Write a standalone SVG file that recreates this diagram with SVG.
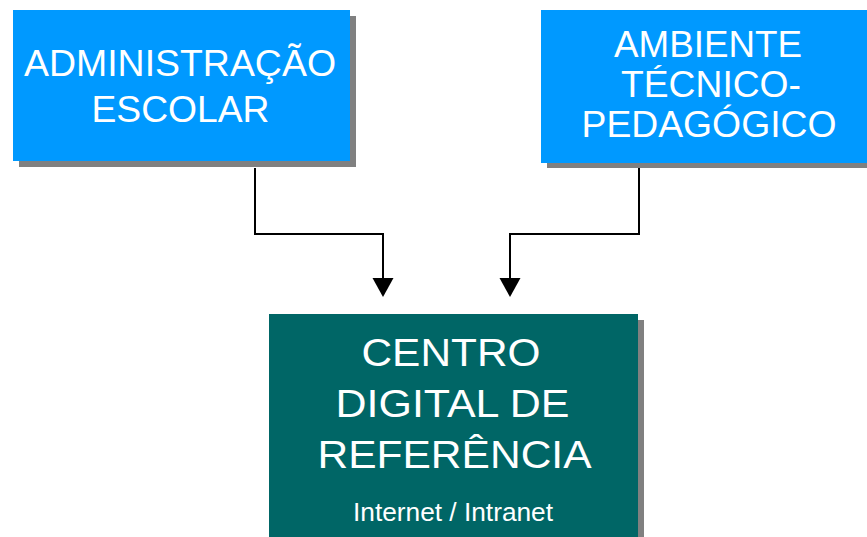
<svg xmlns="http://www.w3.org/2000/svg" width="867" height="537" viewBox="0 0 867 537">
<defs>
<style>
.sh{fill:#808080}
.blue{fill:#0099FF}
.green{fill:#006666}
text{font-family:"Liberation Sans",Arial,sans-serif;fill:#FFFFFF;text-anchor:middle}
.conn{fill:none;stroke:#000;stroke-width:2}
.head{fill:#000}
</style>
</defs>
<rect width="867" height="537" fill="#FFFFFF"/>
<g id="admin">
<rect class="sh" x="19" y="16" width="337" height="151"/>
<rect class="blue" x="13" y="10" width="337" height="151"/>
<text x="180" y="76" font-size="37" textLength="312" lengthAdjust="spacingAndGlyphs">ADMINISTRAÇÃO</text>
<text x="180.5" y="122" font-size="37" textLength="178" lengthAdjust="spacingAndGlyphs">ESCOLAR</text>
</g>
<g id="ambiente">
<rect class="sh" x="547" y="16" width="326" height="152"/>
<rect class="blue" x="541" y="10" width="326" height="153"/>
<text x="708" y="57" font-size="36" textLength="188" lengthAdjust="spacingAndGlyphs">AMBIENTE</text>
<text x="711" y="97" font-size="36" textLength="180" lengthAdjust="spacingAndGlyphs">TÉCNICO-</text>
<text x="709" y="137" font-size="36" textLength="255" lengthAdjust="spacingAndGlyphs">PEDAGÓGICO</text>
</g>
<g id="centro">
<rect class="sh" x="275" y="320" width="369" height="230"/>
<rect class="green" x="269" y="314" width="369" height="230"/>
<text x="451" y="366" font-size="39" textLength="179" lengthAdjust="spacingAndGlyphs">CENTRO</text>
<text x="452.5" y="417" font-size="39" textLength="234" lengthAdjust="spacingAndGlyphs">DIGITAL DE</text>
<text x="454.5" y="468" font-size="39" textLength="274" lengthAdjust="spacingAndGlyphs">REFERÊNCIA</text>
<text x="453" y="521" font-size="25" textLength="200" lengthAdjust="spacingAndGlyphs">Internet / Intranet</text>
</g>
<g id="connectors">
<path class="conn" d="M255,168 V234 H383 V280"/>
<path class="head" d="M372.5,278 L393.5,278 L383,297 Z"/>
<path class="conn" d="M639,168 V234 H510 V280"/>
<path class="head" d="M499.5,278 L520.5,278 L510,297 Z"/>
</g>
</svg>
